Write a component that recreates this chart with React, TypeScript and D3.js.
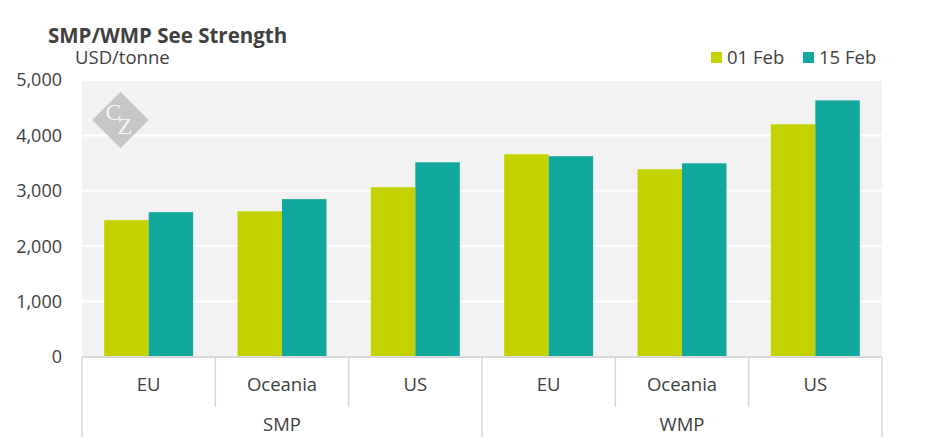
import { useMemo } from 'react';
import * as d3 from 'd3';

const groups = ['SMP', 'WMP'];
const regions = ['EU', 'Oceania', 'US'];
const series = ['01 Feb', '15 Feb'];
const feb01 = [2470, 2630, 3065, 3660, 3390, 4200];
const feb15 = [2615, 2850, 3515, 3625, 3497, 4632];
const yTicks = [0, 1000, 2000, 3000, 4000, 5000];

const COLORS = ['#c4d300', '#13a89e'];
const FONT = '"Open Sans", "Noto Sans", sans-serif';
const TEXT = '#404040';

export default function App() {
  const width = 945;
  const height = 443;
  const margin = { top: 80, right: 63, bottom: 86, left: 82 };
  const innerW = width - margin.left - margin.right;
  const innerH = height - margin.top - margin.bottom;

  const cats = useMemo(
    () => groups.flatMap(g => regions.map(r => `${g}|${r}`)),
    []
  );

  const x = d3.scaleBand<string>().domain(cats).range([0, innerW]).paddingInner(0.333).paddingOuter(0.1665);
  const step = x.step();
  const xs = d3.scaleBand<string>().domain(series).range([0, x.bandwidth()]);
  const y = d3.scaleLinear().domain([0, 5000]).range([innerH, 0]);

  const values = [feb01, feb15];
  const groupW = innerW / groups.length;

  return (
    <svg width={width} height={height} style={{ position: 'absolute', left: 0, top: 0, fontFamily: FONT }}>
      <rect width={width} height={height} fill="#fff" />
      <text x={48} y={42.5} fontSize={20.5} fontWeight={700} fill={TEXT}>SMP/WMP See Strength</text>
      <text x={75} y={63.5} fontSize={18.5} fill={TEXT}>USD/tonne</text>

      {/* Legend */}
      {series.map((s, i) => (
        <g key={s} transform={`translate(${711 + i * 92},0)`}>
          <rect x={0} y={52} width={11} height={11} fill={COLORS[i]} />
          <text x={16} y={63.5} fontSize={18.5} fill={TEXT}>{s}</text>
        </g>
      ))}

      <g transform={`translate(${margin.left},${margin.top})`}>
        <rect width={innerW} height={innerH} fill="#f2f2f2" />
        {yTicks.filter(t => t > 0).map(t => (
          <line key={t} x1={0} x2={innerW} y1={y(t)} y2={y(t)} stroke="#fff" strokeWidth={2} />
        ))}

        {/* Logo */}
        <g transform="translate(38.5,40)">
          <rect x={-20} y={-20} width={40} height={40} transform="rotate(45)" fill="#c6c6c6" />
          <text fontSize={24} fontFamily="'Liberation Serif', serif" fill="#f4f4f4">
            <tspan x={-15} y={0}>C</tspan>
            <tspan x={-3} y={14}>Z</tspan>
          </text>
        </g>

        {cats.map((c, ci) => (
          <g key={c} transform={`translate(${x(c)},0)`}>
            {series.map((s, si) => (
              <rect
                key={s}
                x={xs(s)}
                y={y(values[si][ci])}
                width={xs.bandwidth()}
                height={innerH - y(values[si][ci])}
                fill={COLORS[si]}
              />
            ))}
          </g>
        ))}

        {yTicks.map(t => (
          <text key={t} x={-20} y={y(t)} dy="0.36em" textAnchor="end" fontSize={18} fill={TEXT}>
            {d3.format(',')(t)}
          </text>
        ))}

        {/* Category axis */}
        <line x1={0} x2={innerW} y1={innerH} y2={innerH} stroke="#d9d9d9" strokeWidth={2} />
        {cats.map((c, ci) => {
          const left = ci * step;
          const isGroupStart = ci % regions.length === 0;
          return (
            <g key={c}>
              {!isGroupStart && (
                <line x1={left} x2={left} y1={innerH} y2={innerH + 50} stroke="#d9d9d9" strokeWidth={1.5} />
              )}
              <text x={left + step / 2} y={innerH + 34} textAnchor="middle" fontSize={18.5} fill={TEXT}>
                {c.split('|')[1]}
              </text>
            </g>
          );
        })}
        {d3.range(groups.length + 1).map(i => (
          <line key={i} x1={i * groupW} x2={i * groupW} y1={innerH} y2={innerH + 80} stroke="#d9d9d9" strokeWidth={1.5} />
        ))}
        {groups.map((g, i) => (
          <text key={g} x={i * groupW + groupW / 2} y={innerH + 74} textAnchor="middle" fontSize={18.5} fill={TEXT}>{g}</text>
        ))}
      </g>
    </svg>
  );
}
